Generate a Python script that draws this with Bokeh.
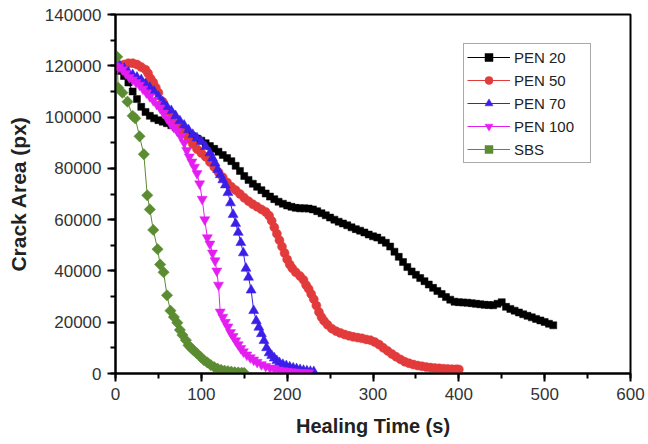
import numpy as np
from bokeh.plotting import figure
from bokeh.models import (Legend, LegendItem, SingleIntervalTicker, BasicTickFormatter,
                          Range1d)
from bokeh.embed import file_html
from bokeh.resources import INLINE

# ---------------- data ----------------
pen20_x = [0, 5, 10, 15, 20, 25, 30, 35, 40, 45, 50, 55, 60, 65, 70, 75, 80, 85, 90, 95,
           100, 105, 110, 115, 120, 125, 130, 135, 140, 145, 150, 155, 160, 165, 170, 175,
           180, 185, 190, 195, 200, 205, 210, 215, 220, 225, 230, 235, 240, 245, 250, 255,
           260, 265, 270, 275, 280, 285, 290, 295, 300, 305, 310, 315, 320, 325, 330, 335,
           340, 345, 350, 355, 360, 365, 370, 375, 380, 385, 390, 395, 400, 405, 410, 415,
           420, 425, 430, 435, 440, 445, 450, 455, 460, 465, 470, 475, 480, 485, 490, 495,
           500, 505, 510]
pen20_y = [119000, 118000, 116000, 113500, 110000, 107000, 104000, 102000, 100500, 99500,
           98800, 98200, 97600, 96800, 96000, 95000, 94200, 93300, 92500, 91600,
           90800, 89800, 88700, 87600, 86500, 85200, 84000, 82800, 81000, 79000,
           77000, 75500, 74000, 72800, 71500, 70200, 69000, 68000, 67000, 66200,
           65500, 65000, 64600, 64400, 64400, 64300, 64000, 63300, 62500, 61700,
           60800, 60000, 59200, 58500, 57800, 57000, 56300, 55700, 55000, 54200,
           53500, 53000, 52000, 51000, 49500, 47500, 45500, 43500, 41500, 39800,
           38500, 37200, 36000, 34700, 33400, 32200, 31000, 29800, 28800, 28000,
           27800, 27700, 27600, 27400, 27200, 27000, 26800, 26700, 26600, 27200,
           27800, 26000, 25200, 24500, 23800, 23100, 22500, 21900, 21300, 20700,
           20100, 19400, 18800]

pen50_x = [0, 5, 10, 15, 20, 25, 30, 35, 38, 41, 44, 47, 50, 55, 60, 65, 70, 75, 80, 85,
           90, 95, 100, 105, 110, 115, 120, 125, 130, 135, 140, 145, 150, 155, 160, 165,
           170, 175, 179, 182, 185, 188, 191, 194, 197, 200, 203, 206, 210, 215, 219, 222,
           225, 228, 231, 234, 237, 240, 243, 247, 252, 257, 262, 267, 272, 277, 282, 287,
           292, 297, 302, 307, 312, 317, 322, 327, 332, 337, 342, 347, 352, 357, 362, 367,
           372, 377, 382, 387, 392, 397, 400]
pen50_y = [120000, 120000, 120500, 121000, 121000, 120500, 119500, 118500, 117000, 115000,
           113500, 111500, 109500, 106000, 102500, 99500, 97500, 95500, 93500, 91500,
           89500, 87500, 86000, 84500, 82500, 80500, 78500, 76500, 74500, 72800,
           71500, 70000, 68500, 67200, 66000, 65000, 64000, 63000, 61500, 59500,
           57000, 54500, 52000, 49500, 47000, 44500, 42500, 41000, 39500, 38000,
           36500, 34500, 33000, 31000, 29000, 26500, 24000, 22000, 20500, 19000,
           17500, 16500, 15800, 15200, 14700, 14300, 14000, 13700, 13300, 13000,
           12300, 11300, 10000, 8800, 7600, 6500, 5500, 4600, 4000, 3500,
           3100, 2800, 2500, 2300, 2100, 2000, 1900, 1800, 1700, 1650, 1600]

pen70_x = [0, 5, 10, 15, 20, 25, 30, 35, 40, 45, 50, 55, 60, 65, 70, 75, 80, 85, 90, 95,
           100, 105, 110, 113, 116, 119, 122, 125, 128, 131, 134, 137, 140, 143, 146, 149,
           152, 155, 158, 161, 164, 167, 170, 173, 176, 179, 182, 185, 188, 191, 195, 199,
           203, 207, 211, 215, 219, 223, 227, 231]
pen70_y = [120500, 120000, 119000, 117500, 116500, 115500, 114500, 113000, 111500, 110000,
           108000, 106000, 104000, 102500, 100500, 98500, 96800, 95000, 93200, 91800,
           90500, 88500, 86000, 84000, 82000, 79500, 77500, 75500, 73500, 70500,
           66500, 62000, 58500, 55000, 51000, 47000, 41000, 37500, 32500, 24500,
           20500, 18000, 15500, 12800, 10000, 8000, 7000, 6000, 5000, 4200,
           3500, 3000, 2500, 2100, 1800, 1500, 1200, 1000, 800, 700]

pen100_x = [0, 4, 8, 12, 16, 20, 24, 28, 32, 36, 40, 44, 48, 52, 56, 60, 64, 68, 72, 76,
            80, 83, 86, 89, 92, 95, 98, 101, 104, 107, 110, 113, 116, 118, 120, 122, 125,
            128, 131, 134, 137, 140, 143, 146, 149, 153, 157, 161, 165, 170, 175, 180, 185,
            190, 195, 200, 205, 210, 215, 220, 225]
pen100_y = [120000, 119500, 118500, 117000, 115500, 114500, 113500, 112500, 111000, 109500,
            108000, 106500, 105000, 103500, 101500, 99500, 97500, 96000, 94500, 92500,
            90000, 87000, 84500, 82500, 80500, 78000, 74000, 68000, 60000, 53000,
            50500, 47000, 44000, 40000, 34500, 24000, 22000, 20000, 18200, 16000,
            14500, 12800, 11300, 9800, 8500, 7300, 6200, 5300, 4400, 3500,
            2800, 2200, 1800, 1400, 1100, 900, 700, 550, 450, 350, 300]

sbs_x = [2, 3, 8, 14, 20, 23, 28, 33, 37, 40, 44, 49, 52, 56, 60, 64, 68, 72, 75, 78,
         82, 85, 88, 91, 95, 99, 103, 107, 111, 115, 119, 123, 127, 131, 135, 139, 143,
         147, 150]
sbs_y = [123500, 111500, 109500, 106000, 100500, 99500, 92500, 85500, 69500, 64000,
         56000, 48500, 42500, 39500, 30500, 24500, 22000, 19800, 17000, 15000,
         13000, 11000, 10000, 9000, 7800, 6500, 5200, 4300, 3300, 2500,
         1900, 1400, 1100, 900, 700, 500, 400, 300, 200]

series_names = ["PEN 20", "PEN 50", "PEN 70", "PEN 100", "SBS"]
x_ticks_step = 100
y_ticks_step = 20000

# ---------------- figure ----------------
W, H = 648, 444
p = figure(width=W, height=H, output_backend="svg", toolbar_location=None,
           x_range=Range1d(0, 600), y_range=Range1d(0, 140000),
           min_border_left=115, min_border_right=18, min_border_top=14,
           min_border_bottom=71)
p.grid.visible = False
p.outline_line_color = "black"
p.outline_line_width = 2
p.background_fill_color = "white"
p.border_fill_color = "white"

p.xaxis.ticker = SingleIntervalTicker(interval=x_ticks_step, num_minor_ticks=2)
p.yaxis.ticker = SingleIntervalTicker(interval=y_ticks_step, num_minor_ticks=2)
p.yaxis.formatter = BasicTickFormatter(use_scientific=False)

for ax in (p.xaxis[0], p.yaxis[0]):
    ax.axis_line_width = 2
    ax.axis_line_color = "black"
    ax.major_tick_line_width = 2
    ax.minor_tick_line_width = 2
    ax.major_tick_out = 8
    ax.major_tick_in = 0
    ax.minor_tick_out = 5
    ax.minor_tick_in = 0
    ax.major_label_text_font = "Liberation Sans"
    ax.major_label_text_font_size = "17px"
    ax.major_label_text_color = "#333333"
    ax.major_label_standoff = 6
    ax.axis_label_text_font = "Liberation Sans"
    ax.axis_label_text_font_style = "bold"
    ax.axis_label_text_color = "#222222"

p.yaxis.axis_label = "Crack Area (px)"
p.yaxis.axis_label_text_font_size = "21px"
p.yaxis.axis_label_standoff = 12

p.xaxis.axis_label = "Healing Time (s)"
p.xaxis.axis_label_text_font_size = "20px"
p.xaxis.axis_label_standoff = 12

colors = ["#000000", "#e23b3b", "#3b1ee8", "#e41ef0", "#5b8c32"]
data = [(pen20_x, pen20_y), (pen50_x, pen50_y), (pen70_x, pen70_y),
        (pen100_x, pen100_y), (sbs_x, sbs_y)]
markers = ["square", "circle", "triangle", "inverted_triangle", "square"]
sizes = [7, 9, 10, 10, 8]
angles = [0, 0, 0, 0, np.pi / 4]

items = []
for name, (xs, ys), c, m, s, a in zip(series_names, data, colors, markers, sizes, angles):
    assert len(xs) == len(ys), name
    lr = p.line(xs, ys, line_color=c, line_width=1)
    sr = p.scatter(xs, ys, marker=m, size=s, angle=a, fill_color=c, line_color=c,
                   line_width=0.5)
    items.append(LegendItem(label=name, renderers=[lr, sr]))

legend = Legend(items=items, location=(348, 210))
legend.border_line_color = "#555555"
legend.border_line_width = 1
legend.background_fill_color = "white"
legend.background_fill_alpha = 1
legend.padding = 3
legend.margin = 0
legend.spacing = 3
legend.glyph_width = 43
legend.glyph_height = 20
legend.label_height = 20
legend.label_width = 73
legend.label_standoff = 4
legend.label_text_font = "Liberation Sans"
legend.label_text_font_size = "15px"
legend.label_text_color = "#222222"
p.add_layout(legend)

open("out.html", "w").write(file_html(p, INLINE))
